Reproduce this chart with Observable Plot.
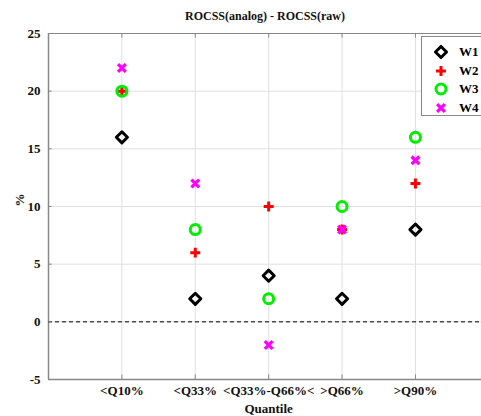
<!DOCTYPE html>
<html><head><meta charset="utf-8">
<script src="https://cdn.jsdelivr.net/npm/d3@7"></script>
<script src="https://cdn.jsdelivr.net/npm/@observablehq/plot@0.6"></script>
<style>
body{margin:0;background:#fff;font-family:"Liberation Serif","Times New Roman",serif;}
#wrap{position:relative;width:481px;height:416px;overflow:hidden;}
#title{position:absolute;left:0;top:9px;width:530px;text-align:center;font-weight:bold;font-size:12px;color:#111;}
#chart{position:absolute;left:0;top:26px;}
#legend{position:absolute;left:421px;top:36px;width:62px;height:80px;border:1px solid #888;background:#fff;box-sizing:border-box;}
.li{position:absolute;left:0;height:18px;width:60px;font-weight:bold;font-size:13px;}
.li svg{position:absolute;left:10px;top:1px;}
.li span{position:absolute;left:37px;top:1px;}
</style></head><body>
<div id="wrap">
<div id="title">ROCSS(analog) - ROCSS(raw)</div>
<div id="chart"></div>
<div id="legend"></div>
</div>
<script>
const categories = ["<Q10%", "<Q33%", "<Q33%-Q66%<", ">Q66%", ">Q90%"];
const seriesNames = ["W1", "W2", "W3", "W4"];
const W1 = [16, 2, 4, 2, 8];
const W2 = [20, 6, 10, 8, 12];
const W3 = [20, 8, 2, 10, 16];
const W4 = [22, 12, -2, 8, 14];
const yTicks = [-5, 0, 5, 10, 15, 20, 25];
const colors = ["#000000", "#ff0000", "#00ee00", "#ff00ff"];
const symbols = ["diamond2", "plus", "circle", "times"];
const radii = [5.0, 3.3, 5.0, 3.6];
const widths = [3, 3, 3, 3.2];

const allValues = [W1, W2, W3, W4];
const rows = [];
allValues.forEach((vals, s) => vals.forEach((v, i) => rows.push({series: seriesNames[s], idx: i + 1, value: v})));

const font = '"Liberation Serif","Times New Roman",serif';
const dotMarks = seriesNames.map((name, s) =>
  Plot.dot(rows.filter(d => d.series === name), {
    x: "idx", y: "value", symbol: () => symbols[s], stroke: colors[s],
    strokeWidth: widths[s], r: radii[s], fill: "none", strokeLinejoin: "round"
  })
);

const plot = Plot.plot({
  width: 481, height: 390,
  marginLeft: 48, marginRight: 0, marginTop: 7, marginBottom: 37,
  style: {fontFamily: font, fontWeight: "bold", fontSize: "13px", color: "#111", background: "#fff"},
  x: {type: "linear", domain: [0, 5.9]},
  y: {type: "linear", domain: [-5, 25]},
  marks: [
    Plot.gridY(yTicks, {stroke: "#e0e0e0", strokeOpacity: 1}),
    Plot.gridX([1, 2, 3, 4, 5], {stroke: "#e0e0e0", strokeOpacity: 1}),
    Plot.ruleX([0], {stroke: "#888", strokeWidth: 1.5}),
    Plot.ruleY([-5], {stroke: "#888", strokeWidth: 1.5}),
    Plot.ruleY([25], {stroke: "#888", strokeWidth: 1}),
    Plot.ruleY([0], {stroke: "#000", strokeDasharray: "4,3", strokeWidth: 1}),
    Plot.axisY(yTicks, {tickSize: 0, tickPadding: 8, label: null, tickFormat: d => d}),
    Plot.ruleY(yTicks, {x1: 0, x2: 0.05, stroke: "#888"}),
    Plot.axisX([1, 2, 3, 4, 5], {tickSize: 0, tickPadding: 6, label: null, tickFormat: i => categories[i - 1]}),
    Plot.ruleX([1, 2, 3, 4, 5], {y1: 25, y2: 24.6, stroke: "#888"}),
    Plot.ruleX([1, 2, 3, 4, 5], {y1: -5, y2: -4.6, stroke: "#888"}),
    Plot.text(["Quantile"], {frameAnchor: "bottom", dy: 33, x: 3, text: d => d, fontSize: 13, fontWeight: "bold"}),
    Plot.text(["%"], {frameAnchor: "left", dx: -29, rotate: -90, text: d => d, fontSize: 13, fontWeight: "bold"}),
    ...dotMarks
  ]
});
document.getElementById("chart").appendChild(plot);

const legend = document.getElementById("legend");
const ns = "http://www.w3.org/2000/svg";
seriesNames.forEach((name, s) => {
  const item = document.createElement("div");
  item.className = "li";
  item.style.top = (6 + s * 18.5) + "px";
  const svg = document.createElementNS(ns, "svg");
  svg.setAttribute("width", 18); svg.setAttribute("height", 16);
  const path = document.createElementNS(ns, "path");
  const symMap = {diamond2: d3.symbolDiamond2, plus: d3.symbolPlus, circle: d3.symbolCircle, times: d3.symbolTimes};
  path.setAttribute("d", d3.symbol(symMap[symbols[s]], Math.PI * radii[s] * radii[s])());
  path.setAttribute("transform", "translate(9,8)");
  path.setAttribute("fill", "none");
  path.setAttribute("stroke", colors[s]);
  path.setAttribute("stroke-width", widths[s]);
  path.setAttribute("stroke-linejoin", "round");
  svg.appendChild(path);
  item.appendChild(svg);
  const sp = document.createElement("span");
  sp.textContent = name;
  item.appendChild(sp);
  legend.appendChild(item);
});
</script>
</body></html>
